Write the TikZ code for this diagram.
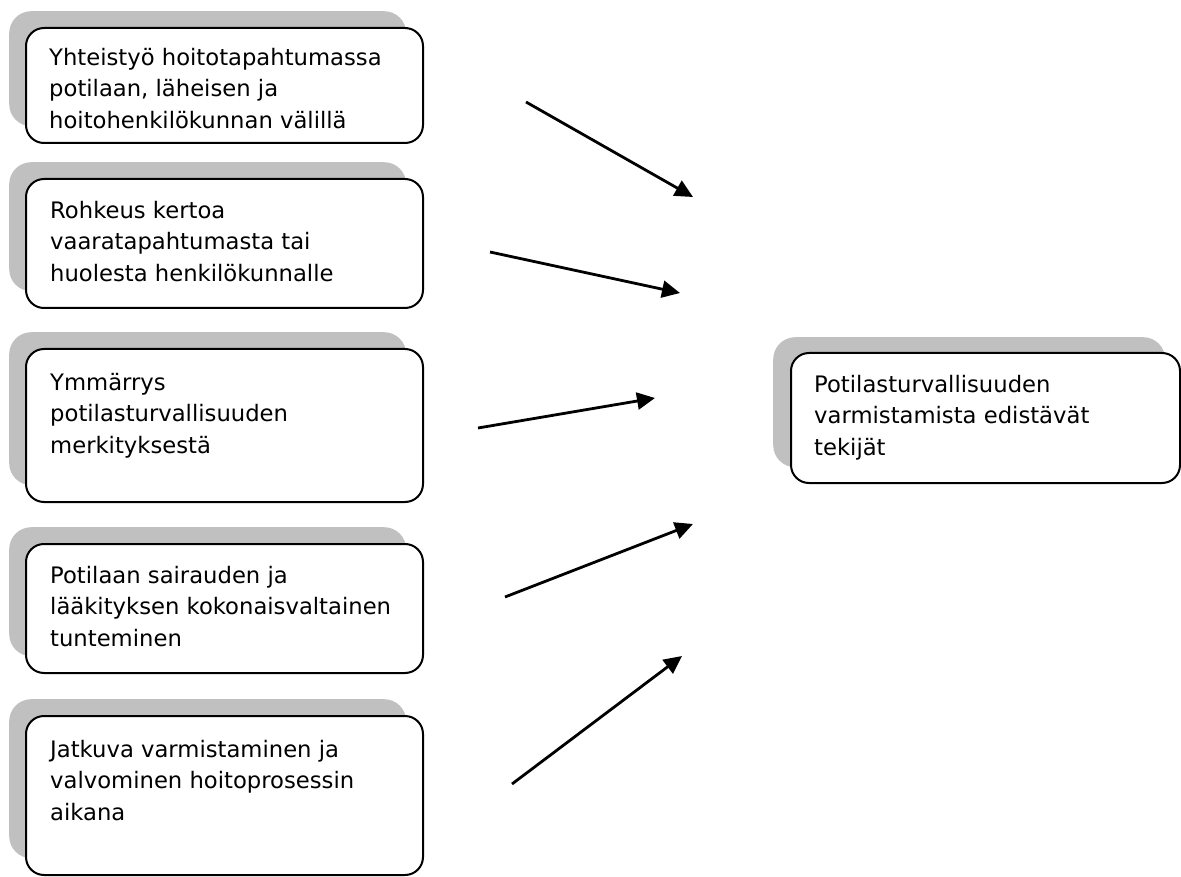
\documentclass[tikz,border=0pt]{standalone}
\usepackage{fontspec}
\setmainfont{DejaVu Sans}
\usetikzlibrary{arrows.meta}
\definecolor{shadowgray}{RGB}{192,192,192}
\begin{document}
\begin{tikzpicture}[x=1pt,y=-1pt,
  wbox/.style={draw=black,line width=2pt,fill=white,rounded corners=18pt,anchor=north west,inner sep=0pt},
  sbox/.style={fill=shadowgray,draw=none,rounded corners=22pt,anchor=north west,inner sep=0pt},
  label/.style={anchor=north west,inner sep=0pt,align=left,font={\fontsize{22.7pt}{31.5pt}\selectfont}},
  arr/.style={line width=2.8pt,-{Triangle[length=18pt,width=17pt]}}]
\useasboundingbox (0,0) rectangle (1181,877);
% shadows
\node[sbox,minimum width=397pt,minimum height=115pt] (s1) at (9,11) {};
\node[sbox,minimum width=397pt,minimum height=129pt] (s2) at (9,162) {};
\node[sbox,minimum width=397pt,minimum height=153pt] (s3) at (9,332) {};
\node[sbox,minimum width=397pt,minimum height=129pt] (s4) at (9,527) {};
\node[sbox,minimum width=397pt,minimum height=159pt] (s5) at (9,699) {};
\node[sbox,minimum width=392pt,minimum height=130pt] (s6) at (773,337) {};
% boxes
\node[wbox,minimum width=397pt,minimum height=115pt] (b1) at (25,27) {};
\node[wbox,minimum width=397pt,minimum height=129pt] (b2) at (25,178) {};
\node[wbox,minimum width=397pt,minimum height=153pt] (b3) at (25,348) {};
\node[wbox,minimum width=397pt,minimum height=129pt] (b4) at (25,543) {};
\node[wbox,minimum width=397pt,minimum height=159pt] (b5) at (25,715) {};
\node[wbox,minimum width=389pt,minimum height=130pt] (b6) at (790,352) {};
% texts
\node[label] (t1) at (49,48) {Yhteistyö hoitotapahtumassa\\potilaan, läheisen ja\\hoitohenkilökunnan välillä};
\node[label] (t2) at (50,201) {Rohkeus kertoa\\vaaratapahtumasta tai\\huolesta henkilökunnalle};
\node[label] (t3) at (50,373) {Ymmärrys\\potilasturvallisuuden\\merkityksestä};
\node[label] (t4) at (50,566) {Potilaan sairauden ja\\lääkityksen kokonaisvaltainen\\tunteminen};
\node[label] (t5) at (50,740) {Jatkuva varmistaminen ja\\valvominen hoitoprosessin\\aikana};
\node[label] (t6) at (814,375) {Potilasturvallisuuden\\varmistamista edistävät\\tekijät};
% arrows
\coordinate (a1s) at (526,102); \coordinate (a1e) at (693,197);
\coordinate (a2s) at (490,252); \coordinate (a2e) at (680,293);
\coordinate (a3s) at (478,428); \coordinate (a3e) at (655,398);
\coordinate (a4s) at (505,597); \coordinate (a4e) at (693,524);
\coordinate (a5s) at (512,784); \coordinate (a5e) at (682,656);
\draw[arr] (a1s) -- (a1e);
\draw[arr] (a2s) -- (a2e);
\draw[arr] (a3s) -- (a3e);
\draw[arr] (a4s) -- (a4e);
\draw[arr] (a5s) -- (a5e);
\end{tikzpicture}
\end{document}
